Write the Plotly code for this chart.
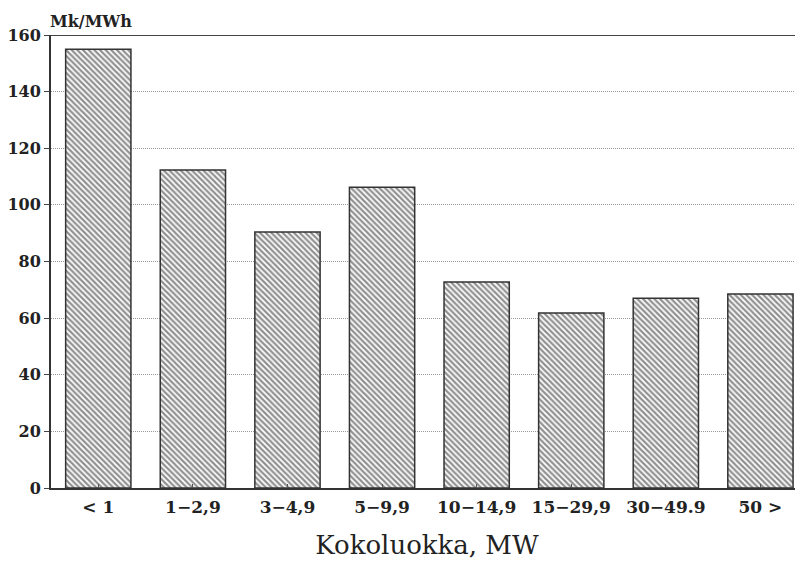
import plotly.graph_objects as go

categories = ["< 1", "1\u22122,9", "3\u22124,9", "5\u22129,9", "10\u221214,9", "15\u221229,9", "30\u221249.9", "50 >"]
values = [155, 112.3, 90.4, 106.2, 72.8, 61.8, 67.0, 68.5]
y_ticks = [0, 20, 40, 60, 80, 100, 120, 140, 160]

SERIF = "DejaVu Serif"

fig = go.Figure()
fig.add_trace(go.Bar(
    x=list(range(len(categories))),
    y=values,
    width=0.69,
    marker=dict(
        color="white",
        line=dict(color="#333333", width=1.5),
        pattern=dict(shape="\\", size=4, solidity=0.55, fgcolor="#222222", bgcolor="white"),
    ),
))

fig.update_layout(
    width=803, height=561,
    margin=dict(l=43, r=8, t=27, b=81),
    paper_bgcolor="white", plot_bgcolor="white",
    showlegend=False,
    font=dict(family=SERIF, color="#222222"),
    xaxis=dict(
        range=[-0.5, 7.45],
        automargin=False,
        tickmode="array",
        tickvals=list(range(len(categories))),
        ticktext=categories,
        tickfont=dict(family=SERIF, size=17, weight="bold"),
        ticklabelstandoff=3,
        showline=True, linecolor="#333333", linewidth=2,
        ticks="inside", ticklen=4, tickcolor="#555555",
        showgrid=False, zeroline=False,
        title=dict(text="Kokoluokka, MW", font=dict(family=SERIF, size=26), standoff=19),
    ),
    yaxis=dict(
        range=[0, 160],
        automargin=False,
        tickvals=y_ticks,
        tickfont=dict(family=SERIF, size=16, weight="bold"),
        showline=True, linecolor="#333333", linewidth=2,
        ticks="outside", ticklen=5, tickcolor="#444444",
        showgrid=True, gridcolor="#999999", griddash="1px,1px", gridwidth=1,
        zeroline=False,
    ),
    shapes=[dict(type="line", xref="paper", yref="y", x0=0, x1=1, y0=160, y1=160,
                 line=dict(color="#444444", width=2))],
    annotations=[dict(text="<b>Mk/MWh</b>", xref="paper", yref="paper", x=0.0, y=1.0,
                      xanchor="left", yanchor="bottom", yshift=3, xshift=-2, showarrow=False,
                      borderpad=0,
                      font=dict(family=SERIF, size=16, color="#222222"))],
)

fig.write_html("out.html")
